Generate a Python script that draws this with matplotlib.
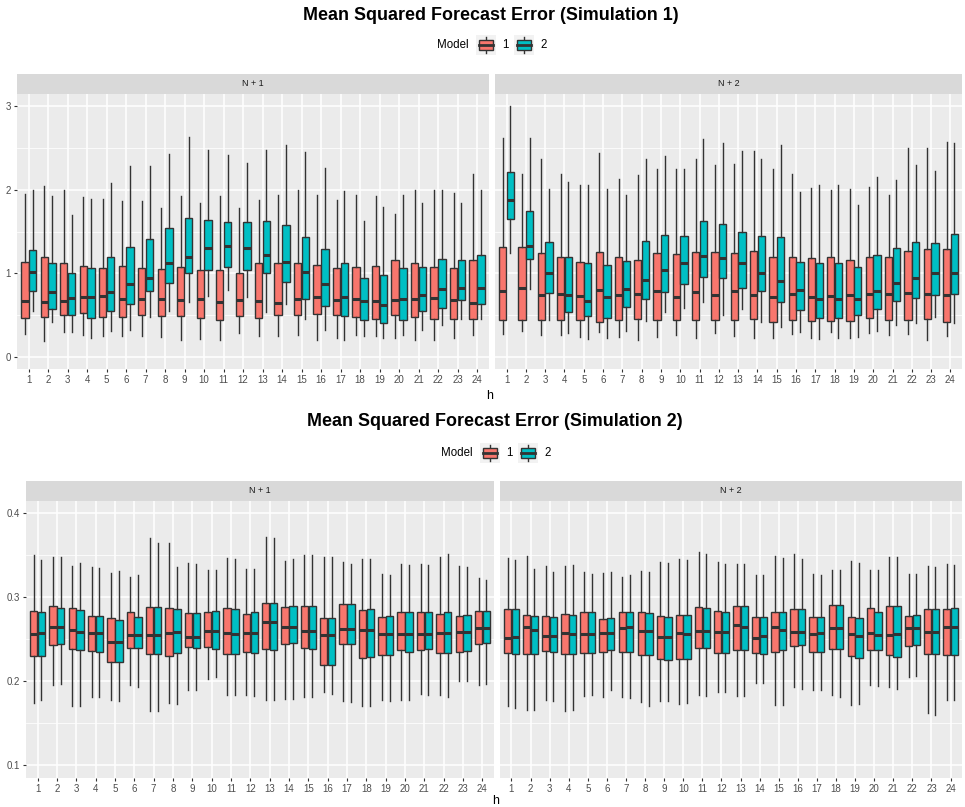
import numpy as np
import matplotlib.pyplot as plt

plt.rcParams['font.family'] = ['Liberation Sans', 'DejaVu Sans']

W, H = 965, 807
hs = list(range(1, 25))

# each row: [lower whisker, Q1, median, Q3, upper whisker] for h = 1..24
sim1_n1_m1 = [[0.28, 0.47, 0.67, 1.14, 1.95], [0.19, 0.48, 0.66, 1.19, 2.04], [0.30, 0.50, 0.67, 1.12, 2.00],
              [0.26, 0.53, 0.72, 1.09, 1.91], [0.25, 0.48, 0.73, 1.06, 1.89], [0.25, 0.48, 0.69, 1.09, 1.86],
              [0.25, 0.50, 0.70, 1.06, 1.86], [0.24, 0.49, 0.70, 1.05, 1.78], [0.20, 0.49, 0.68, 1.08, 1.92],
              [0.22, 0.47, 0.70, 1.04, 1.84], [0.20, 0.45, 0.66, 1.04, 1.92], [0.29, 0.49, 0.68, 1.01, 1.78],
              [0.25, 0.47, 0.67, 1.12, 1.88], [0.25, 0.50, 0.65, 1.13, 1.93], [0.27, 0.50, 0.70, 1.12, 2.00],
              [0.21, 0.52, 0.72, 1.10, 1.94], [0.23, 0.50, 0.68, 1.06, 1.88], [0.27, 0.48, 0.69, 1.08, 1.93],
              [0.25, 0.46, 0.67, 1.09, 1.92], [0.23, 0.50, 0.68, 1.16, 1.71], [0.21, 0.48, 0.69, 1.12, 1.99],
              [0.21, 0.46, 0.71, 1.08, 1.99], [0.23, 0.46, 0.68, 1.06, 1.96], [0.26, 0.46, 0.65, 1.16, 2.18]]
sim1_n1_m2 = [[0.55, 0.79, 1.02, 1.28, 2.00], [0.42, 0.58, 0.78, 1.13, 1.92], [0.30, 0.51, 0.71, 1.01, 1.70],
              [0.23, 0.47, 0.72, 1.07, 1.89], [0.31, 0.55, 0.78, 1.20, 2.08], [0.32, 0.64, 0.87, 1.32, 2.28],
              [0.48, 0.79, 0.95, 1.41, 2.28], [0.55, 0.89, 1.12, 1.54, 2.42], [0.66, 1.00, 1.19, 1.66, 2.63],
              [0.73, 1.04, 1.30, 1.64, 2.47], [0.80, 1.08, 1.33, 1.61, 2.41], [0.72, 1.04, 1.30, 1.61, 2.32],
              [0.54, 1.01, 1.22, 1.62, 2.47], [0.63, 0.90, 1.14, 1.58, 2.53], [0.46, 0.69, 1.02, 1.44, 2.45],
              [0.32, 0.61, 0.87, 1.29, 2.26], [0.21, 0.49, 0.72, 1.13, 1.98], [0.25, 0.44, 0.67, 0.95, 1.62],
              [0.23, 0.41, 0.62, 0.98, 1.79], [0.27, 0.45, 0.69, 1.07, 1.93], [0.33, 0.55, 0.74, 1.08, 1.84],
              [0.38, 0.59, 0.81, 1.17, 2.00], [0.46, 0.68, 0.83, 1.16, 1.84], [0.46, 0.64, 0.83, 1.22, 2.00]]
sim1_n2_m1 = [[0.28, 0.44, 0.79, 1.32, 2.62], [0.31, 0.44, 0.83, 1.31, 2.19], [0.26, 0.45, 0.74, 1.24, 2.36],
              [0.27, 0.45, 0.75, 1.19, 2.19], [0.24, 0.44, 0.73, 1.14, 2.05], [0.30, 0.42, 0.80, 1.26, 2.44],
              [0.24, 0.45, 0.74, 1.20, 2.13], [0.21, 0.46, 0.76, 1.16, 2.17], [0.24, 0.44, 0.79, 1.24, 2.24],
              [0.27, 0.45, 0.72, 1.23, 2.24], [0.23, 0.45, 0.78, 1.25, 2.37], [0.29, 0.45, 0.74, 1.25, 2.29],
              [0.25, 0.44, 0.79, 1.24, 2.31], [0.23, 0.46, 0.74, 1.27, 2.46], [0.23, 0.42, 0.72, 1.19, 2.24],
              [0.28, 0.44, 0.75, 1.19, 2.18], [0.23, 0.43, 0.72, 1.18, 2.02], [0.30, 0.43, 0.73, 1.19, 1.99],
              [0.23, 0.43, 0.74, 1.16, 2.01], [0.29, 0.47, 0.75, 1.20, 2.03], [0.26, 0.44, 0.75, 1.19, 1.94],
              [0.28, 0.44, 0.77, 1.27, 2.50], [0.21, 0.46, 0.76, 1.29, 2.49], [0.25, 0.42, 0.74, 1.29, 2.57]]
sim1_n2_m2 = [[1.24, 1.65, 1.88, 2.21, 3.00], [0.81, 1.17, 1.33, 1.75, 2.62], [0.44, 0.77, 1.01, 1.37, 2.01],
              [0.29, 0.54, 0.74, 1.20, 2.09], [0.22, 0.49, 0.67, 1.12, 2.05], [0.23, 0.47, 0.72, 1.10, 2.01],
              [0.31, 0.60, 0.81, 1.15, 1.94], [0.43, 0.70, 0.92, 1.39, 2.37], [0.54, 0.78, 1.04, 1.46, 2.40],
              [0.59, 0.87, 1.12, 1.45, 2.24], [0.66, 0.96, 1.21, 1.63, 2.60], [0.50, 0.95, 1.18, 1.59, 2.56],
              [0.58, 0.83, 1.12, 1.49, 2.46], [0.42, 0.79, 1.01, 1.45, 2.37], [0.36, 0.66, 0.91, 1.43, 2.53],
              [0.30, 0.56, 0.80, 1.14, 1.97], [0.22, 0.47, 0.69, 1.13, 2.05], [0.23, 0.47, 0.69, 1.12, 2.06],
              [0.24, 0.50, 0.69, 1.08, 1.82], [0.31, 0.58, 0.79, 1.22, 2.15], [0.39, 0.67, 0.89, 1.30, 2.12],
              [0.41, 0.71, 0.94, 1.37, 2.29], [0.48, 0.74, 1.01, 1.36, 2.22], [0.41, 0.76, 1.00, 1.47, 2.55]]

sim2_n1_m1 = [[0.174, 0.230, 0.256, 0.284, 0.350], [0.196, 0.243, 0.265, 0.290, 0.348], [0.170, 0.238, 0.261, 0.287, 0.337],
              [0.181, 0.236, 0.257, 0.278, 0.336], [0.177, 0.223, 0.247, 0.275, 0.329], [0.195, 0.239, 0.255, 0.282, 0.324],
              [0.164, 0.232, 0.255, 0.288, 0.370], [0.174, 0.230, 0.257, 0.287, 0.365], [0.189, 0.241, 0.253, 0.281, 0.341],
              [0.203, 0.241, 0.260, 0.283, 0.333], [0.183, 0.232, 0.257, 0.287, 0.347], [0.183, 0.235, 0.257, 0.280, 0.334],
              [0.178, 0.238, 0.270, 0.293, 0.372], [0.179, 0.244, 0.265, 0.288, 0.343], [0.181, 0.240, 0.260, 0.290, 0.350],
              [0.187, 0.219, 0.255, 0.275, 0.348], [0.176, 0.244, 0.262, 0.292, 0.342], [0.171, 0.228, 0.261, 0.285, 0.346],
              [0.177, 0.231, 0.256, 0.277, 0.328], [0.177, 0.237, 0.256, 0.282, 0.340], [0.185, 0.237, 0.256, 0.282, 0.339],
              [0.183, 0.234, 0.257, 0.280, 0.348], [0.200, 0.235, 0.259, 0.278, 0.337], [0.196, 0.244, 0.263, 0.284, 0.323]]
sim2_n1_m2 = [[0.177, 0.230, 0.257, 0.282, 0.344], [0.197, 0.244, 0.265, 0.287, 0.348], [0.170, 0.237, 0.259, 0.285, 0.341],
              [0.181, 0.235, 0.257, 0.278, 0.335], [0.176, 0.223, 0.247, 0.273, 0.331], [0.193, 0.239, 0.255, 0.277, 0.327],
              [0.164, 0.232, 0.255, 0.288, 0.365], [0.173, 0.234, 0.259, 0.286, 0.336], [0.189, 0.239, 0.253, 0.281, 0.340],
              [0.205, 0.238, 0.260, 0.284, 0.332], [0.184, 0.232, 0.256, 0.286, 0.346], [0.182, 0.234, 0.257, 0.282, 0.334],
              [0.177, 0.237, 0.270, 0.293, 0.370], [0.179, 0.245, 0.265, 0.290, 0.346], [0.181, 0.238, 0.260, 0.289, 0.350],
              [0.185, 0.219, 0.255, 0.275, 0.348], [0.175, 0.244, 0.262, 0.292, 0.340], [0.171, 0.229, 0.261, 0.286, 0.346],
              [0.176, 0.231, 0.256, 0.278, 0.326], [0.177, 0.235, 0.256, 0.283, 0.338], [0.184, 0.238, 0.256, 0.282, 0.338],
              [0.181, 0.234, 0.257, 0.282, 0.351], [0.200, 0.236, 0.259, 0.279, 0.336], [0.197, 0.245, 0.263, 0.284, 0.321]]
sim2_n2_m1 = [[0.170, 0.233, 0.251, 0.286, 0.347], [0.166, 0.232, 0.264, 0.279, 0.349], [0.178, 0.236, 0.254, 0.278, 0.337],
              [0.165, 0.232, 0.257, 0.280, 0.337], [0.182, 0.233, 0.256, 0.283, 0.330], [0.181, 0.235, 0.257, 0.274, 0.329],
              [0.181, 0.235, 0.263, 0.282, 0.324], [0.175, 0.231, 0.260, 0.282, 0.331], [0.176, 0.226, 0.253, 0.278, 0.342],
              [0.173, 0.226, 0.257, 0.279, 0.346], [0.183, 0.239, 0.260, 0.288, 0.354], [0.187, 0.233, 0.258, 0.284, 0.342],
              [0.182, 0.237, 0.267, 0.289, 0.340], [0.198, 0.233, 0.252, 0.277, 0.327], [0.172, 0.235, 0.264, 0.282, 0.349],
              [0.193, 0.242, 0.258, 0.286, 0.352], [0.189, 0.235, 0.256, 0.277, 0.328], [0.183, 0.238, 0.263, 0.291, 0.333],
              [0.172, 0.230, 0.256, 0.276, 0.343], [0.195, 0.237, 0.257, 0.287, 0.333], [0.193, 0.231, 0.255, 0.290, 0.348],
              [0.205, 0.242, 0.263, 0.278, 0.328], [0.162, 0.232, 0.259, 0.286, 0.337], [0.177, 0.231, 0.264, 0.286, 0.340]]
sim2_n2_m2 = [[0.168, 0.232, 0.253, 0.286, 0.344], [0.166, 0.232, 0.261, 0.278, 0.334], [0.176, 0.235, 0.254, 0.276, 0.330],
              [0.166, 0.232, 0.256, 0.279, 0.338], [0.184, 0.233, 0.256, 0.282, 0.328], [0.189, 0.237, 0.257, 0.275, 0.330],
              [0.180, 0.235, 0.264, 0.283, 0.326], [0.171, 0.231, 0.260, 0.281, 0.330], [0.176, 0.225, 0.253, 0.277, 0.341],
              [0.174, 0.227, 0.256, 0.279, 0.344], [0.182, 0.239, 0.260, 0.287, 0.351], [0.187, 0.234, 0.259, 0.283, 0.340],
              [0.182, 0.237, 0.265, 0.290, 0.340], [0.198, 0.232, 0.254, 0.277, 0.327], [0.172, 0.237, 0.261, 0.282, 0.347],
              [0.191, 0.243, 0.258, 0.286, 0.346], [0.189, 0.235, 0.257, 0.276, 0.327], [0.181, 0.238, 0.263, 0.291, 0.332],
              [0.173, 0.228, 0.254, 0.275, 0.341], [0.194, 0.237, 0.255, 0.283, 0.332], [0.191, 0.229, 0.256, 0.290, 0.348],
              [0.206, 0.243, 0.263, 0.279, 0.328], [0.160, 0.232, 0.259, 0.286, 0.336], [0.177, 0.231, 0.264, 0.287, 0.338]]

models = ['1', '2']
colors = ['#F8766D', '#00BFC4']
facets = ['N + 1', 'N + 2']
titles = ['Mean Squared Forecast Error (Simulation 1)', 'Mean Squared Forecast Error (Simulation 2)']

EDGE = '#333333'
fig = plt.figure(figsize=(W / 100, H / 100), dpi=100)


def px_axes(l, t, r, b):
    return fig.add_axes([l / W, 1 - b / H, (r - l) / W, (b - t) / H])


def draw_panel(ax, m1, m2, ylim, yticks, yminor, show_y):
    ax.set_facecolor('#EBEBEB')
    ax.set_xlim(0.4, 24.6)
    ax.set_ylim(*ylim)
    for y in yminor:
        ax.axhline(y, color='white', lw=0.55, zorder=0.5)
    for y in yticks:
        ax.axhline(y, color='white', lw=1.1, zorder=0.6)
    for x in hs:
        ax.axvline(x, color='white', lw=1.1, zorder=0.6)
    for stats, off, col in [(m1, -0.2, colors[0]), (m2, 0.2, colors[1])]:
        bst = [dict(whislo=s[0], q1=s[1], med=s[2], q3=s[3], whishi=s[4], fliers=[]) for s in stats]
        ax.bxp(bst, positions=np.array(hs) + off, widths=0.38, patch_artist=True,
               showcaps=False, showfliers=False, manage_ticks=False, zorder=2,
               boxprops=dict(facecolor=col, edgecolor=EDGE, linewidth=1.0),
               whiskerprops=dict(color=EDGE, linewidth=1.0),
               medianprops=dict(color=EDGE, linewidth=2.2, solid_capstyle='butt'))
    for s in ax.spines.values():
        s.set_visible(False)
    ax.set_xticks(hs)
    ax.set_xticklabels([str(h) for h in hs])
    ax.tick_params(axis='both', length=2.5, width=0.8, color=EDGE, labelsize=7,
                   labelcolor='#4D4D4D', pad=2)
    if show_y:
        ax.set_yticks(yticks)
    else:
        ax.set_yticks([])


def strip(l, t, r, b, label):
    s = px_axes(l, t, r, b)
    s.set_facecolor('#D9D9D9')
    s.set_xticks([])
    s.set_yticks([])
    for sp in s.spines.values():
        sp.set_visible(False)
    s.text(0.5, 0.5, label, ha='center', va='center', fontsize=6.5, color='#1A1A1A',
           transform=s.transAxes)


def legend(x0, yc):
    fig.text(x0 / W, 1 - yc / H, 'Model', ha='left', va='center', fontsize=8.3)
    kx = x0 + 39
    for lab, col in zip(models, colors):
        k = px_axes(kx, yc - 10, kx + 20, yc + 10)
        k.set_xlim(0, 1)
        k.set_ylim(0, 1)
        k.axis('off')
        k.add_patch(plt.Rectangle((0, 0), 1, 1, color='#F2F2F2', zorder=0))
        k.plot([0.5, 0.5], [0.1, 0.9], color=EDGE, lw=1.0, zorder=1)
        k.add_patch(plt.Rectangle((0.15, 0.27), 0.7, 0.46, facecolor=col, edgecolor=EDGE, lw=1.0, zorder=2))
        k.plot([0.15, 0.85], [0.5, 0.5], color=EDGE, lw=2.0, zorder=3)
        fig.text((kx + 26) / W, 1 - yc / H, lab, ha='left', va='center', fontsize=8.3)
        kx += 38


# simulation 1
sim1 = [(sim1_n1_m1, sim1_n1_m2), (sim1_n2_m1, sim1_n2_m2)]
for i, (l, r) in enumerate([(17, 488.7), (495, 962)]):
    ax = px_axes(l, 94, r, 369)
    draw_panel(ax, sim1[i][0], sim1[i][1], (-0.14, 3.14), [0, 1, 2, 3], [0.5, 1.5, 2.5], i == 0)
    strip(l, 74, r, 94, facets[i])
fig.text(491 / W, 1 - 15 / H, titles[0], ha='center', va='center', fontsize=12.9, fontweight='bold')
legend(437, 45)
fig.text(490 / W, 1 - 396 / H, 'h', ha='center', va='center', fontsize=9)

# simulation 2
sim2 = [(sim2_n1_m1, sim2_n1_m2), (sim2_n2_m1, sim2_n2_m2)]
for i, (l, r) in enumerate([(26, 494), (500, 962)]):
    ax = px_axes(l, 500.7, r, 777.7)
    draw_panel(ax, sim2[i][0], sim2[i][1], (0.085, 0.415), [0.1, 0.2, 0.3, 0.4], [0.15, 0.25, 0.35], i == 0)
    if i == 0:
        ax.set_yticklabels(['0.1', '0.2', '0.3', '0.4'])
    strip(l, 481, r, 500.7, facets[i])
fig.text(495 / W, 1 - 421 / H, titles[1], ha='center', va='center', fontsize=12.9, fontweight='bold')
legend(441, 453)
fig.text(496 / W, 1 - 801 / H, 'h', ha='center', va='center', fontsize=9)

fig.savefig('out.png', dpi=100, facecolor='white')
